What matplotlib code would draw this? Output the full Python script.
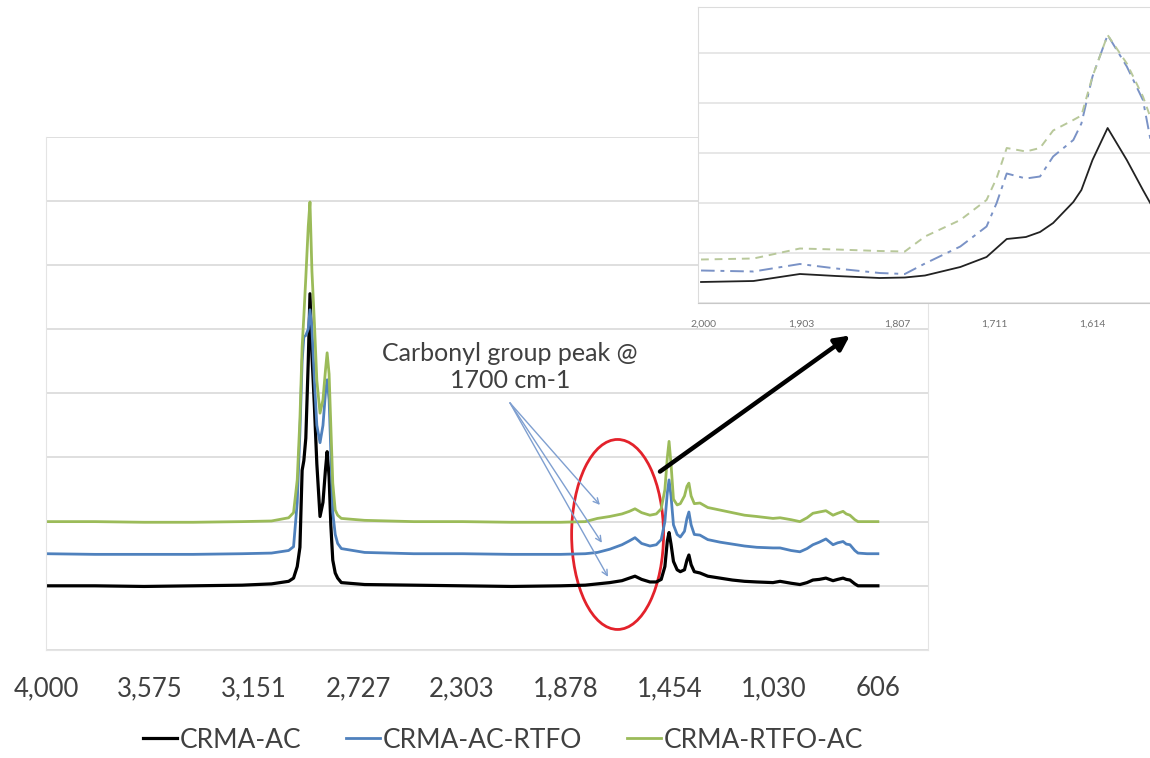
import matplotlib
matplotlib.use("Agg")
import matplotlib.pyplot as plt
from matplotlib.patches import Ellipse

plt.rcParams['font.family'] = ['Lato', 'DejaVu Sans']

# FTIR spectra, main chart (wavenumber in cm-1, offset absorbance)
wavenumber = [4000, 3800, 3600, 3400, 3200, 3080, 3010, 2990, 2975, 2964,
              2955, 2948, 2940, 2930, 2923, 2915, 2905, 2895, 2882, 2870,
              2860, 2853, 2845, 2838, 2830, 2820, 2810, 2795, 2700, 2500,
              2300, 2100, 1900, 1800, 1750, 1700, 1650, 1620, 1597, 1570,
              1536, 1510, 1490, 1475, 1465, 1458, 1450, 1440, 1425, 1412,
              1395, 1385, 1377, 1368, 1355, 1332, 1300, 1250, 1200, 1150,
              1100, 1034, 1005, 960, 924, 895, 871, 845, 818, 789,
              770, 748, 735, 720, 700, 687, 650, 606]

crma_ac = [0.00, 0.00, -0.01, 0.00, 0.01, 0.03, 0.07, 0.12, 0.30, 0.60,
           1.80, 1.95, 2.30, 3.50, 4.55, 3.60, 2.80, 1.90, 1.08, 1.30,
           1.80, 2.09, 1.70, 0.95, 0.40, 0.20, 0.12, 0.05, 0.02, 0.01,
           0.00, -0.01, 0.00, 0.01, 0.03, 0.05, 0.08, 0.12, 0.15, 0.10,
           0.06, 0.06, 0.10, 0.30, 0.70, 0.83, 0.65, 0.38, 0.25, 0.22,
           0.25, 0.40, 0.48, 0.33, 0.22, 0.20, 0.15, 0.12, 0.09, 0.07,
           0.06, 0.05, 0.07, 0.04, 0.02, 0.05, 0.09, 0.10, 0.12, 0.08,
           0.10, 0.12, 0.10, 0.09, 0.03, 0.00, 0.00, 0.00]

crma_ac_rtfo = [0.50, 0.49, 0.49, 0.49, 0.50, 0.51, 0.55, 0.61, 1.30, 2.40,
                3.50, 3.88, 3.90, 4.00, 4.30, 4.00, 3.20, 2.50, 2.23, 2.50,
                3.00, 3.21, 2.90, 2.10, 1.14, 0.80, 0.66, 0.58, 0.52, 0.50,
                0.50, 0.49, 0.49, 0.50, 0.52, 0.57, 0.64, 0.70, 0.75, 0.66,
                0.62, 0.64, 0.72, 1.00, 1.45, 1.65, 1.40, 0.95, 0.80, 0.76,
                0.85, 1.05, 1.15, 0.95, 0.80, 0.79, 0.72, 0.68, 0.65, 0.62,
                0.60, 0.59, 0.59, 0.55, 0.53, 0.58, 0.64, 0.68, 0.73, 0.64,
                0.67, 0.69, 0.65, 0.64, 0.55, 0.51, 0.50, 0.50]

crma_rtfo_ac = [1.00, 1.00, 0.99, 0.99, 1.00, 1.01, 1.06, 1.14, 1.65, 2.60,
                3.72, 4.20, 4.80, 5.60, 5.98, 4.90, 4.10, 3.20, 2.69, 2.90,
                3.35, 3.63, 3.30, 2.50, 1.60, 1.18, 1.10, 1.05, 1.02, 1.00,
                1.00, 0.99, 0.99, 1.00, 1.05, 1.08, 1.12, 1.16, 1.20, 1.14,
                1.10, 1.12, 1.20, 1.50, 2.00, 2.25, 1.90, 1.35, 1.26, 1.28,
                1.40, 1.55, 1.60, 1.40, 1.28, 1.29, 1.22, 1.18, 1.14, 1.10,
                1.08, 1.05, 1.06, 1.03, 1.00, 1.06, 1.13, 1.15, 1.17, 1.10,
                1.13, 1.16, 1.12, 1.10, 1.03, 1.00, 1.00, 1.00]

xtick_values = [4000, 3575, 3151, 2727, 2303, 1878, 1454, 1030, 606]
xtick_labels = ['4,000', '3,575', '3,151', '2,727', '2,303', '1,878', '1,454', '1,030', '606']

# zoomed inset, 2000-1550 cm-1
inset_wn = [2002, 1950, 1904, 1868, 1825, 1800, 1780, 1745, 1719, 1709,
            1699, 1680, 1666, 1653, 1633, 1625, 1614, 1599, 1580, 1564, 1554]
inset_ac = [0.42, 0.44, 0.58, 0.54, 0.50, 0.51, 0.55, 0.72, 0.92, 1.10,
            1.28, 1.32, 1.42, 1.60, 2.02, 2.26, 2.86, 3.50, 2.86, 2.26, 1.90]
inset_ac_rtfo = [0.65, 0.63, 0.78, 0.69, 0.60, 0.58, 0.79, 1.13, 1.53, 2.00,
                 2.59, 2.49, 2.53, 2.93, 3.26, 3.59, 4.53, 5.36, 4.73, 4.06, 3.00]
inset_rtfo_ac = [0.87, 0.89, 1.09, 1.07, 1.04, 1.03, 1.33, 1.66, 2.06, 2.50,
                 3.10, 3.03, 3.10, 3.45, 3.66, 3.75, 4.53, 5.36, 4.79, 4.13, 3.57]
inset_tick_values = [2000, 1903, 1807, 1711, 1614]
inset_tick_labels = ['2,000', '1,903', '1,807', '1,711', '1,614']

W, H = 1150, 758
def px_rect(l, t, r, b):
    return [l / W, 1 - b / H, (r - l) / W, (b - t) / H]

black = '#000000'
blue = '#4F81BD'
green = '#9BBB59'
grid_c = '#d9d9d9'
text_c = '#404040'

fig = plt.figure(figsize=(W / 100, H / 100), dpi=100)

ax = fig.add_axes(px_rect(46, 136.5, 928, 650))
l1, = ax.plot(wavenumber, crma_ac, color=black, lw=2.3, label='CRMA-AC')
l2, = ax.plot(wavenumber, crma_ac_rtfo, color=blue, lw=2.0, label='CRMA-AC-RTFO')
l3, = ax.plot(wavenumber, crma_rtfo_ac, color=green, lw=2.0, label='CRMA-RTFO-AC')
ax.set_xlim(4000, 401.5)
ax.set_ylim(-1, 7)
ax.set_yticks(range(-1, 8))
ax.yaxis.grid(True, color=grid_c, lw=1.2)
ax.set_axisbelow(True)
ax.tick_params(axis='y', left=False, labelleft=False)
ax.set_xticks(xtick_values)
ax.set_xticklabels(xtick_labels)
ax.tick_params(axis='x', length=0, pad=19, labelsize=18.5, colors=text_c)
ax.spines['top'].set_visible(False)
for s in ['left', 'right', 'bottom']:
    ax.spines[s].set_color('#e4e4e4')

# annotation: carbonyl region
ax.text(2107, 3.41, 'Carbonyl group peak @\n1700 cm-1', ha='center', va='center',
        fontsize=18, color=text_c, linespacing=1.25)
for tx, ty in [(1740, 1.26), (1732, 0.67), (1707, 0.14)]:
    ax.annotate('', xy=(tx, ty), xytext=(2107, 2.85),
                arrowprops=dict(arrowstyle='->', color='#7f9fd0', lw=1.0,
                                shrinkA=0, shrinkB=0))
ax.add_patch(Ellipse((1668, 0.8), 375, 2.96, fill=False, edgecolor='#e3222b',
                     lw=2.0, clip_on=False))
ax.annotate('', xy=(720, 3.9), xytext=(1495, 1.78),
            arrowprops=dict(arrowstyle='-|>', color='black', lw=3.2,
                            mutation_scale=22, shrinkA=0, shrinkB=0),
            annotation_clip=False)

# inset
ax_in = fig.add_axes(px_rect(698, 7, 1150, 303), facecolor='white', zorder=5)
ax_in.plot(inset_wn, inset_ac, color='#222222', lw=1.3, ls='-')
ax_in.plot(inset_wn, inset_ac_rtfo, color='#7a92c6', lw=1.4, ls=(0, (7, 3, 2, 3)))
ax_in.plot(inset_wn, inset_rtfo_ac, color='#b8c89a', lw=1.4, ls=(0, (4, 3)))
ax_in.set_xlim(2005, 1557)
ax_in.set_ylim(0, 5.92)
ax_in.set_yticks(range(0, 6))
ax_in.yaxis.grid(True, color='#e3e3e3', lw=1.2)
ax_in.set_axisbelow(True)
ax_in.tick_params(axis='y', left=False, labelleft=False)
ax_in.set_xticks(inset_tick_values)
ax_in.set_xticklabels(inset_tick_labels)
ax_in.tick_params(axis='x', length=0, pad=12, labelsize=7.5, colors='#707070')
ax_in.spines['right'].set_visible(False)
for s in ['left', 'top']:
    ax_in.spines[s].set_color('#dcdcdc')
ax_in.spines['bottom'].set_color('#c8c8c8')

fig.legend(handles=[l1, l2, l3], loc='center', bbox_to_anchor=(503 / W, 1 - 740 / H),
           ncol=3, frameon=False, fontsize=19, handlelength=1.3, handletextpad=0.1,
           columnspacing=1.7, labelcolor=text_c)

fig.savefig('out.png', dpi=100)
